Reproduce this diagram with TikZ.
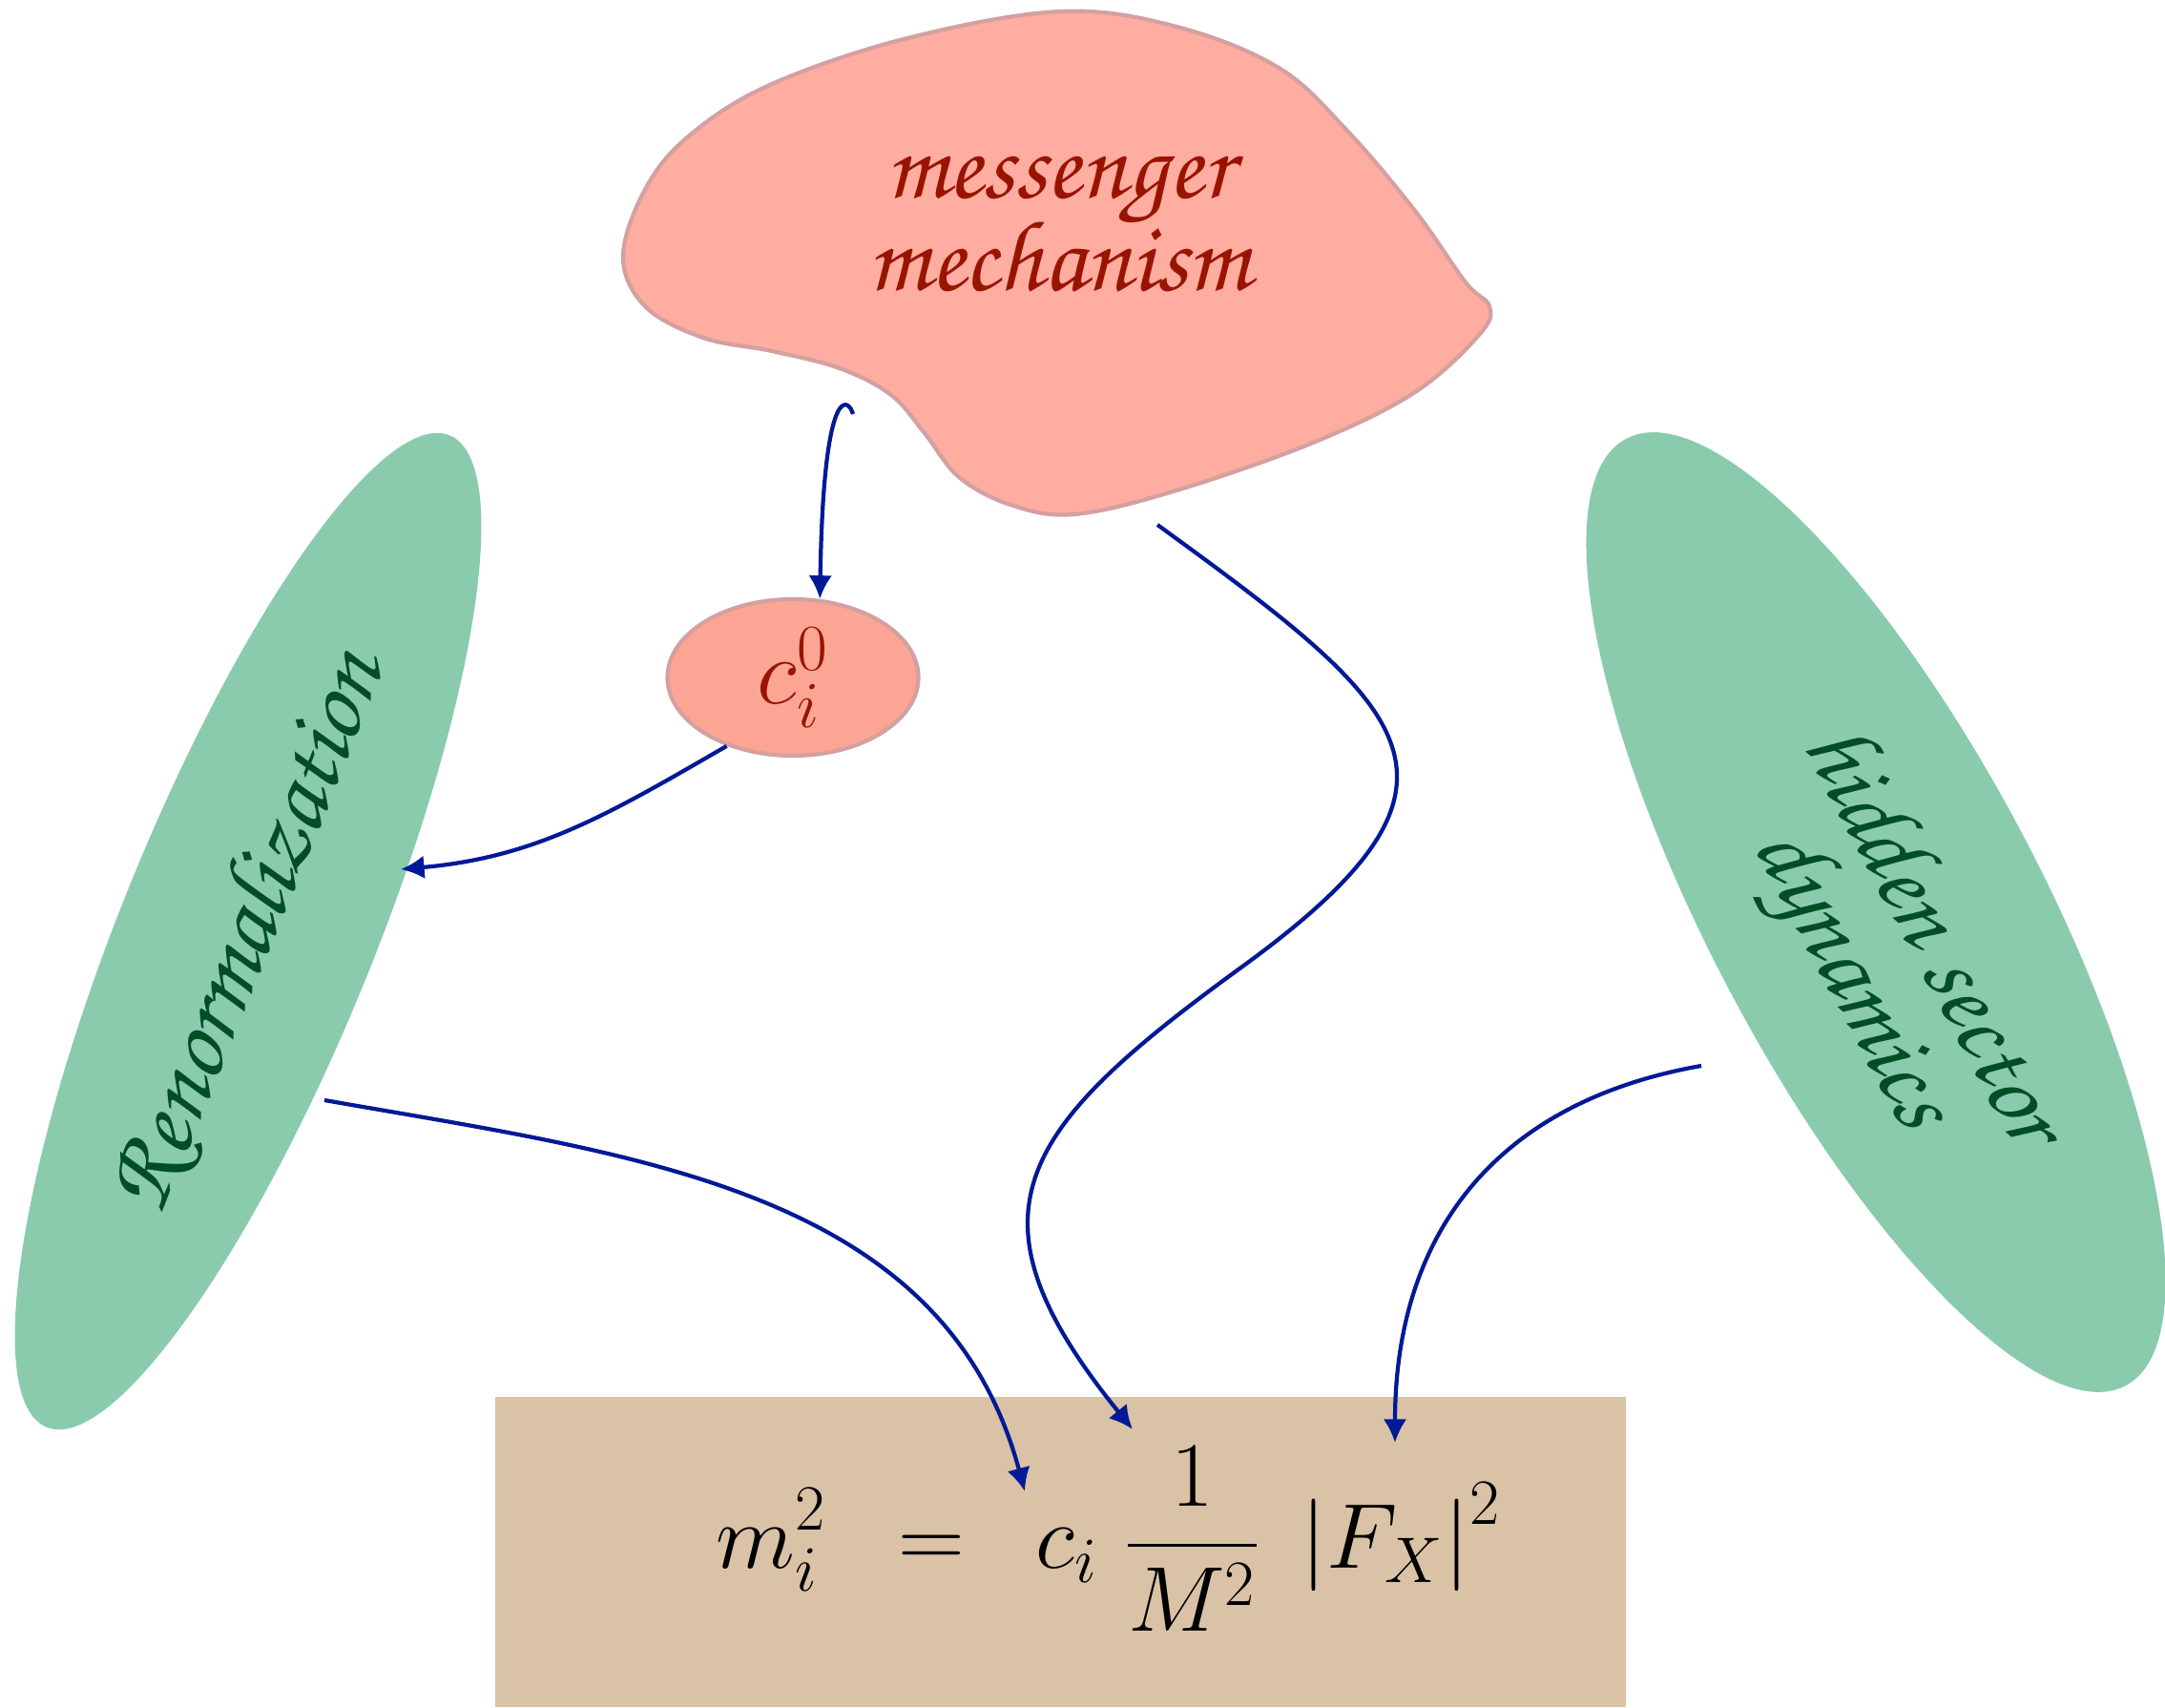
\RequirePackage{fix-cm}
\documentclass[tikz,border=0pt]{standalone}
\usepackage[T1,TU]{fontenc}
\usepackage{amsmath}
\usetikzlibrary{shapes.geometric,arrows.meta}
\definecolor{salmon}{RGB}{254,173,160}
\definecolor{salmonedge}{RGB}{212,160,160}
\definecolor{cfill}{RGB}{252,165,148}
\definecolor{wine}{RGB}{153,20,0}
\definecolor{mint}{RGB}{138,203,173}
\definecolor{pine}{RGB}{0,77,38}
\definecolor{sand}{RGB}{217,194,166}
\definecolor{ink}{RGB}{0,25,150}
\newcommand{\chan}{\fontencoding{T1}\fontfamily{pzc}\fontseries{mb}\fontshape{it}\selectfont}

\begin{document}
\begin{tikzpicture}[
  link/.style={ink,line width=1.2pt,-{Latex[length=7pt,width=7pt]}},
  greenblob/.style={ellipse,fill=mint,inner sep=0pt,minimum width=11.22cm},
  greenlabel/.style={pine,font=\chan\fontsize{30}{27}\selectfont,align=center},
  redlabel/.style={wine,font=\chan\fontsize{30}{25.5}\selectfont,align=center}]
\useasboundingbox (0,0) rectangle (22.69,17.90);

\draw[fill=salmon,draw=salmonedge,line width=1.2pt] plot[smooth cycle,tension=.6] coordinates {
  (11.12,17.78) (12.33,17.62) (13.40,17.19) (14.11,16.54) (14.83,15.69)
  (15.36,14.94) (15.61,14.69) (15.51,14.40) (14.83,13.79) (13.76,13.26)
  (12.33,12.76) (11.26,12.51) (10.59,12.61) (10.05,12.90) (9.69,13.36)
  (9.34,13.76) (8.80,14.04) (8.09,14.22) (7.37,14.36) (6.76,14.69)
  (6.53,15.22) (6.78,15.95) (7.25,16.50) (8.09,17.02) (9.51,17.50)};
\node[redlabel] (msg) at (11.10,15.56) {messenger\\[-4pt]mechanism};

\node[ellipse,fill=cfill,draw=salmonedge,line width=1.2pt,inner sep=0pt,
  minimum width=2.63cm,minimum height=1.64cm,text=wine,font=\fontsize{28}{32}\selectfont]
  (c) at (8.31,10.80) {$c_i^0$};

\node[greenblob,rotate=67.9,minimum height=2.66cm,text=pine,font=\chan\fontsize{30}{27}\selectfont]
  (renorm) at (2.60,8.14) {Renormalization};
\node[greenblob,rotate=-62.2,minimum height=3.48cm] (hidden) at (19.66,8.34) {};
\node[greenlabel,rotate=-62.2] (hiddentxt) at (19.78,7.85) {hidden sector\\dynamics};

\node[fill=sand,anchor=south west,inner sep=0pt,minimum width=11.85cm,minimum height=3.25cm]
  (box) at (5.18,0) {};
\node[inner sep=0pt,font=\fontsize{27.5}{32}\selectfont] (mass) at (11.62,1.77)
  {$\displaystyle m_i^2 \enskip = \enskip c_i\;\frac{1}{M^2}\;\left|F_X\right|^2$};

\coordinate (hook) at (8.94,13.56);
\coordinate (msgout) at (12.13,12.40);
\coordinate (bend) at (13.02,7.77);
\coordinate (renin) at (4.20,8.79);
\coordinate (renout) at (3.40,6.37);
\coordinate (hidout) at (17.83,6.73);
\coordinate (tci) at (10.74,2.27);
\coordinate (tfrac) at (11.87,2.92);
\coordinate (tfx) at (14.62,2.78);

\draw[link] (hook) .. controls (8.89,13.74) and (8.63,13.90) .. (c.71);
\draw[link] (c.226) to[out=210,in=5] (renin);
\draw[link] (msgout) to[out=-36,in=36,looseness=1.8] (bend) to[out=216,in=129,looseness=1.5] (tfrac);
\draw[link] (renout) to[out=-10,in=105] (tci);
\draw[link] (hidout) to[out=190,in=90,looseness=1.1] (tfx);
\end{tikzpicture}
\end{document}
